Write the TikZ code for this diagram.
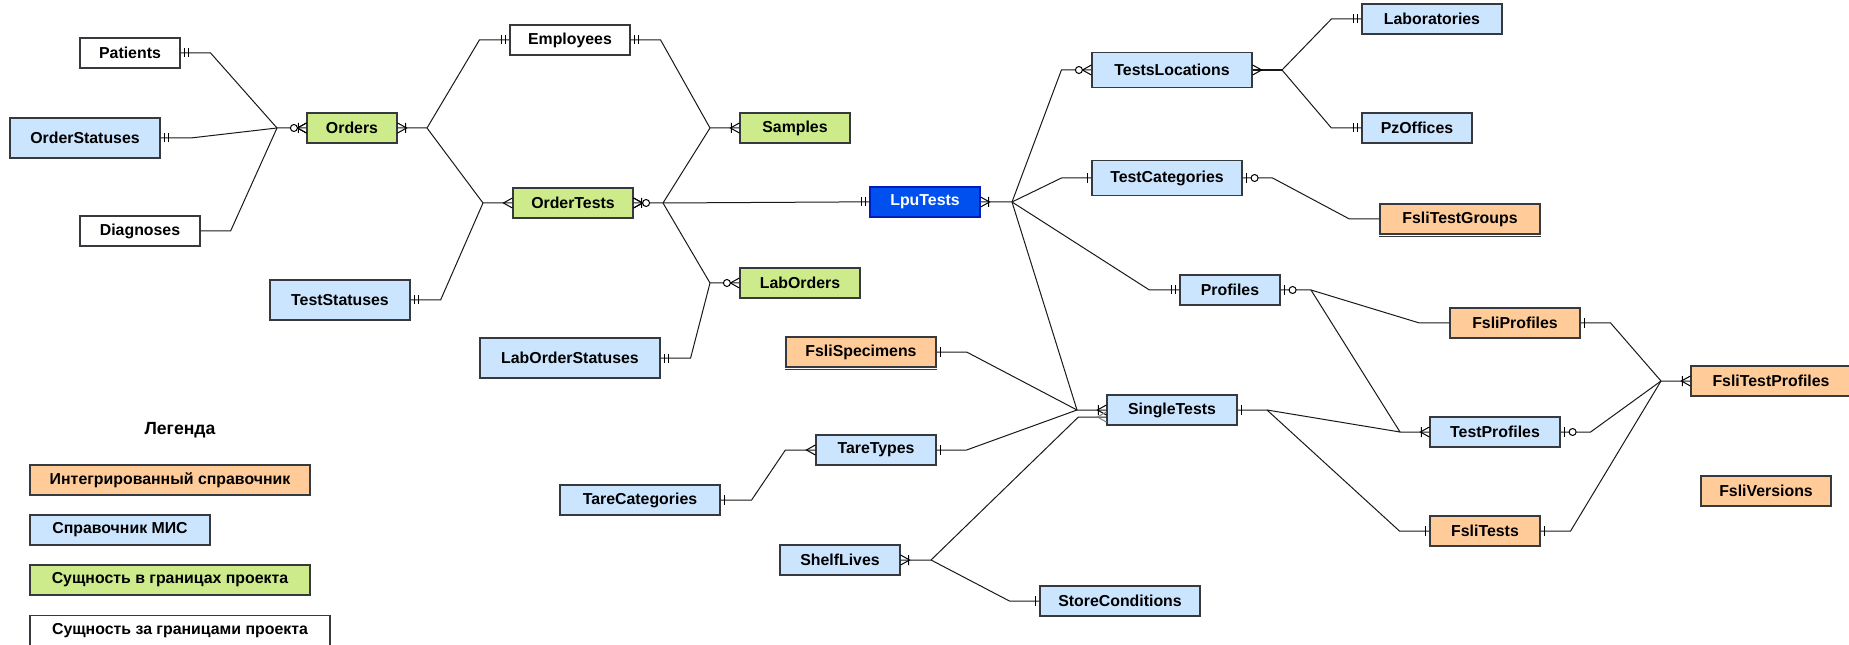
\documentclass[tikz,border=0pt]{standalone}
\usepackage{fontspec}
\setmainfont{Liberation Sans}
\definecolor{orangefill}{HTML}{FFCC99}
\definecolor{bluefill}{HTML}{CCE5FF}
\definecolor{greenfill}{HTML}{CDEB8B}
\definecolor{lpufill}{HTML}{0050EF}
\definecolor{lpuline}{HTML}{001DBC}
\definecolor{boxline}{HTML}{36393D}
\begin{document}
\begin{tikzpicture}[x=0.75pt,y=-0.75pt,
  ent/.style={draw=boxline, line width=0.9pt, inner sep=0pt, minimum height=22.5pt,
    font=\bfseries\fontsize{11.9}{14}\selectfont, text=black},
  bw/.style={minimum width=#1*0.75pt},
  bh/.style={minimum height=#1*0.75pt},
  fsli/.style={ent, fill=orangefill},
  mis/.style={ent, fill=bluefill},
  proj/.style={ent, fill=greenfill},
  ext/.style={ent, fill=white},
  conn/.style={line width=0.75pt, draw=black!90},
  mk/.style={line width=0.75pt, draw=black},
  pics/mandone/.style={code={\draw[mk] (4,-4.5) -- (4,4.5) (8,-4.5) -- (8,4.5);}},
  pics/one/.style={code={\draw[mk] (4,-5) -- (4,5);}},
  pics/many/.style={code={\draw[mk] (0,-5) -- (9,0) -- (0,5);}},
  pics/onemany/.style={code={\draw[mk] (0,-5) -- (9,0) -- (0,5) (8,-5) -- (8,5);}},
  pics/zeromany/.style={code={\draw[mk] (0,-5) -- (9,0) -- (0,5);
    \draw[mk, fill=white] (12.5,0) circle[radius=3.5];}},
  pics/zeroone/.style={code={\draw[mk] (4,-5) -- (4,5);
    \draw[mk, fill=white] (12,0) circle[radius=3.5];}},
]
\useasboundingbox (0,0) rectangle (1849,645);

% ---- entities ----
\node[ext, bw=100] (patients) at (130,53) {Patients};
\node[mis, bw=150, bh=40] (ordstat) at (85,138) {OrderStatuses};
\node[ext, bw=120] (diag) at (140,231) {Diagnoses};
\node[proj, bw=90] (orders) at (352,128) {Orders};
\node[ext, bw=120] (employees) at (570,40) {Employees};
\node[proj, bw=110] (samples) at (795,128) {Samples};
\node[proj, bw=120] (ordertests) at (573,203) {OrderTests};
\node[ent, draw=lpuline, fill=lpufill, text=white, bw=110] (lputests) at (925,202) {LpuTests};
\node[proj, bw=120] (laborders) at (800,283) {LabOrders};
\node[mis, bw=140, bh=40] (teststat) at (340,300) {TestStatuses};
\node[mis, bw=180, bh=40] (labordstat) at (570,358) {LabOrderStatuses};
\node[fsli, bw=150] (fslispec) at (861,352) {FsliSpecimens};
\node[mis, bw=120] (taretypes) at (876,450) {TareTypes};
\node[mis, bw=160] (tarecat) at (640,500) {TareCategories};
\node[mis, bw=120] (shelf) at (840,560) {ShelfLives};
\node[mis, bw=160] (storecond) at (1120,601) {StoreConditions};
\node[mis, bw=130] (singletests) at (1172,410) {SingleTests};
\node[mis, bw=160, bh=35] (testsloc) at (1172,70) {TestsLocations};
\node[mis, bw=140] (labs) at (1432,19) {Laboratories};
\node[mis, bw=110] (pzoff) at (1417,128) {PzOffices};
\node[mis, bw=150, bh=35] (testcat) at (1167,178) {TestCategories};
\node[fsli, bw=160] (fslitg) at (1460,219) {FsliTestGroups};
\node[mis, bw=100] (profiles) at (1230,290) {Profiles};
\node[fsli, bw=130] (fsliprof) at (1515,323) {FsliProfiles};
\node[fsli, bw=160] (fslitp) at (1771,381) {FsliTestProfiles};
\node[mis, bw=130] (testprof) at (1495,432) {TestProfiles};
\node[fsli, bw=110] (fslitests) at (1485,531) {FsliTests};
\node[fsli, bw=130] (fsliver) at (1766,491) {FsliVersions};

% second bottom edge of two reference books
\draw[boxline, line width=0.75pt] ([yshift=-1.7pt]fslispec.south west) -- ([yshift=-1.7pt]fslispec.south east);
\draw[boxline, line width=0.75pt] ([yshift=-1.7pt]fslitg.south west) -- ([yshift=-1.7pt]fslitg.south east);

% ---- legend ----
\node[font=\bfseries\fontsize{13.2}{16}\selectfont] (legtitle) at (180,430) {Легенда};
\node[fsli, bw=280] (leg1) at (170,480) {Интегрированный справочник};
\node[mis, bw=180] (leg2) at (120,530) {Справочник МИС};
\node[proj, bw=280] (leg3) at (170,580) {Сущность в границах проекта};
\node[ext, bw=300, bh=31] (leg4) at (180,631) {Сущность за границами проекта};

% ---- junction points ----
\coordinate (jOrdL) at (277,128);
\coordinate (jOrdR) at (427,128);
\coordinate (jOTL) at (483,203);
\coordinate (jOTR) at (663,203);
\coordinate (jSam) at (710,128);
\coordinate (jLab) at (710,283);
\coordinate (jLpu) at (1012,202);
\coordinate (jSTL) at (1077,410);
\coordinate (jShelf) at (931,560);
\coordinate (jTL) at (1282,70);
\coordinate (jProf) at (1311,290);
\coordinate (jTP) at (1400,432);
\coordinate (jSTR) at (1267,410);
\coordinate (jFTP) at (1661,381);

% ---- relations ----
\draw[conn] (patients.east) -- ++(30,0) -- (jOrdL) -- (orders.west);
\draw[conn] (ordstat.east) -- ++(30,0) -- (jOrdL);
\draw[conn] (diag.east) -- ++(30,0) -- (jOrdL);
\draw[conn] (orders.east) -- (jOrdR) -- ([xshift=-22.5pt]employees.west) -- (employees.west);
\draw[conn] (jOrdR) -- (jOTL) -- (ordertests.west);
\draw[conn] (teststat.east) -- ++(30,0) -- (jOTL);
\draw[conn] (employees.east) -- ++(30,0) -- (jSam) -- (samples.west);
\draw[conn] (ordertests.east) -- (jOTR) -- (jSam);
\draw[conn] (jOTR) -- (jLab) -- (laborders.west);
\draw[conn] (labordstat.east) -- ++(30,0) -- (jLab);
\draw[conn] (jOTR) -- ([xshift=-22.5pt]lputests.west) -- (lputests.west);
\draw[conn] (lputests.east) -- (jLpu) -- ([xshift=-22.5pt]testsloc.west) -- (testsloc.west);
\draw[conn] (jLpu) -- ([xshift=-22.5pt]testcat.west) -- (testcat.west);
\draw[conn] (jLpu) -- ([xshift=-22.5pt]profiles.west) -- (profiles.west);
\draw[conn] (jLpu) -- (jSTL) -- (singletests.west);
\draw[conn] (fslispec.east) -- ++(30,0) -- (jSTL);
\draw[conn] (taretypes.east) -- ++(30,0) -- (jSTL);
\draw[conn] (shelf.east) -- (jShelf) -- ([xshift=-21pt,yshift=-5.25pt]singletests.west) -- ([yshift=-5.25pt]singletests.west);
\draw[conn] (jShelf) -- ([xshift=-22.5pt]storecond.west) -- (storecond.west);
\draw[conn] (tarecat.east) -- ++(31,0) -- ([xshift=-22.5pt]taretypes.west) -- (taretypes.west);
\draw[conn, line width=1.6pt] (testsloc.east) -- (jTL);
\draw[conn] (jTL) -- ([xshift=-22.5pt]labs.west) -- (labs.west);
\draw[conn] (jTL) -- ([xshift=-22.5pt]pzoff.west) -- (pzoff.west);
\draw[conn] (testcat.east) -- ++(30,0) -- ([xshift=-22.5pt]fslitg.west) -- (fslitg.west);
\draw[conn] (profiles.east) -- (jProf) -- ([xshift=-22.5pt]fsliprof.west) -- (fsliprof.west);
\draw[conn] (jProf) -- (jTP) -- (testprof.west);
\draw[conn] (singletests.east) -- (jSTR) -- (jTP);
\draw[conn] (jSTR) -- ([xshift=-22.5pt]fslitests.west) -- (fslitests.west);
\draw[conn] (fsliprof.east) -- ++(30,0) -- (jFTP) -- (fslitp.west);
\draw[conn] (testprof.east) -- ++(30,0) -- (jFTP);
\draw[conn] (fslitests.east) -- ++(30,0) -- (jFTP);

% ---- cardinality marks ----
\path (patients.east) pic{mandone};
\path (ordstat.east) pic{mandone};
\path (orders.west) pic[xscale=-1]{onemany};
\path (orders.west) pic[xscale=-1]{zeromany};
\path (orders.east) pic{onemany};
\path (employees.west) pic[xscale=-1]{mandone};
\path (employees.east) pic{mandone};
\path (ordertests.west) pic[xscale=-1]{many};
\path (ordertests.east) pic{onemany};
\path (ordertests.east) pic{zeromany};
\path (teststat.east) pic{mandone};
\path (samples.west) pic[xscale=-1]{onemany};
\path (laborders.west) pic[xscale=-1]{zeromany};
\path (labordstat.east) pic{mandone};
\path (lputests.west) pic[xscale=-1]{mandone};
\path (lputests.east) pic{onemany};
\path (testsloc.west) pic[xscale=-1]{zeromany};
\path (testsloc.east) pic{many};
\path (labs.west) pic[xscale=-1]{mandone};
\path (pzoff.west) pic[xscale=-1]{mandone};
\path (testcat.west) pic[xscale=-1]{one};
\path (testcat.east) pic{zeroone};
\path (profiles.west) pic[xscale=-1]{mandone};
\path (profiles.east) pic{zeroone};
\path (fsliprof.east) pic{one};
\path (testprof.west) pic[xscale=-1]{onemany};
\path (testprof.east) pic{zeroone};
\path (fslitests.west) pic[xscale=-1]{one};
\path (fslitests.east) pic{one};
\path (fslitp.west) pic[xscale=-1]{onemany};
\path (singletests.west) pic[xscale=-1]{onemany};
\path ([yshift=-5.25pt]singletests.west) pic[xscale=-1, mk/.append style={draw=gray}]{many};
\path (singletests.east) pic{one};
\path (fslispec.east) pic{one};
\path (taretypes.east) pic{one};
\path (taretypes.west) pic[xscale=-1]{many};
\path (tarecat.east) pic{one};
\path (shelf.east) pic{onemany};
\path (storecond.west) pic[xscale=-1]{one};
\end{tikzpicture}
\end{document}
